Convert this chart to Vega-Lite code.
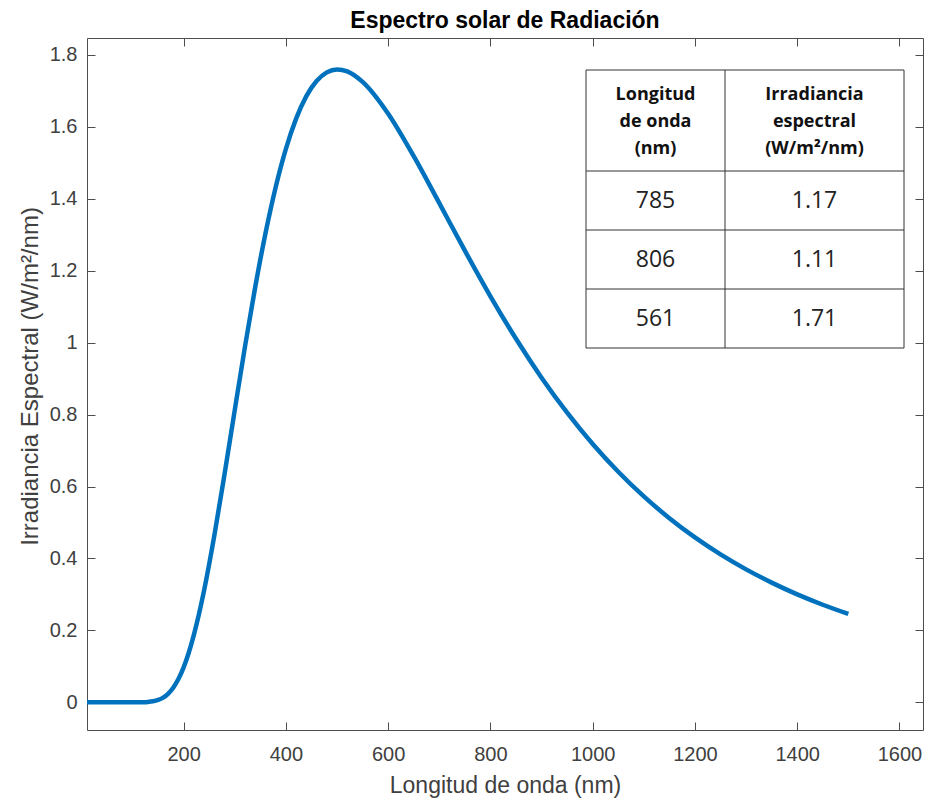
{
  "$schema": "https://vega.github.io/schema/vega-lite/v6.json",
  "width": 836,
  "height": 692,
  "autosize": "none",
  "padding": {"left": 87, "top": 38, "right": 4, "bottom": 69},
  "background": "white",
  "title": {
    "text": "Espectro solar de Radiación",
    "font": "Liberation Sans",
    "fontSize": 23,
    "fontWeight": "bold",
    "color": "#000000",
    "anchor": "middle",
    "frame": "group",
    "baseline": "alphabetic",
    "offset": -13
  },
  "config": {
    "view": {"stroke": null},
    "axis": {"grid": false}
  },
  "datasets": {
    "curva": [
      {"lambda": 11, "irr": 0},
      {"lambda": 50, "irr": 0},
      {"lambda": 100, "irr": 0},
      {"lambda": 120, "irr": 0.0003},
      {"lambda": 130, "irr": 0.001},
      {"lambda": 140, "irr": 0.0028},
      {"lambda": 150, "irr": 0.0065},
      {"lambda": 160, "irr": 0.0132},
      {"lambda": 170, "irr": 0.0244},
      {"lambda": 180, "irr": 0.0413},
      {"lambda": 190, "irr": 0.0653},
      {"lambda": 200, "irr": 0.0973},
      {"lambda": 210, "irr": 0.1379},
      {"lambda": 220, "irr": 0.1873},
      {"lambda": 230, "irr": 0.2453},
      {"lambda": 240, "irr": 0.3113},
      {"lambda": 260, "irr": 0.4635},
      {"lambda": 280, "irr": 0.6342},
      {"lambda": 300, "irr": 0.8127},
      {"lambda": 320, "irr": 0.9893},
      {"lambda": 340, "irr": 1.1547},
      {"lambda": 360, "irr": 1.3036},
      {"lambda": 380, "irr": 1.4323},
      {"lambda": 400, "irr": 1.5387},
      {"lambda": 420, "irr": 1.6228},
      {"lambda": 440, "irr": 1.6853},
      {"lambda": 460, "irr": 1.7274},
      {"lambda": 480, "irr": 1.7515},
      {"lambda": 500, "irr": 1.7597},
      {"lambda": 520, "irr": 1.7543},
      {"lambda": 550, "irr": 1.725},
      {"lambda": 600, "irr": 1.6365},
      {"lambda": 650, "irr": 1.5183},
      {"lambda": 700, "irr": 1.3878},
      {"lambda": 750, "irr": 1.2557},
      {"lambda": 800, "irr": 1.1288},
      {"lambda": 850, "irr": 1.0107},
      {"lambda": 900, "irr": 0.9026},
      {"lambda": 950, "irr": 0.8052},
      {"lambda": 1000, "irr": 0.7182},
      {"lambda": 1050, "irr": 0.6409},
      {"lambda": 1100, "irr": 0.5724},
      {"lambda": 1150, "irr": 0.5119},
      {"lambda": 1200, "irr": 0.4584},
      {"lambda": 1250, "irr": 0.4112},
      {"lambda": 1300, "irr": 0.3696},
      {"lambda": 1350, "irr": 0.3327},
      {"lambda": 1400, "irr": 0.3001},
      {"lambda": 1450, "irr": 0.2713},
      {"lambda": 1500, "irr": 0.2456}
    ],
    "encabezado": [
      {"longitud": ["Longitud", "de onda", "(nm)"], "irradiancia": ["Irradiancia", "espectral", "(W/m²/nm)"]}
    ],
    "tabla": [
      {"fila": 1, "longitud": "785", "irradiancia": "1.17"},
      {"fila": 2, "longitud": "806", "irradiancia": "1.11"},
      {"fila": 3, "longitud": "561", "irradiancia": "1.71"}
    ]
  },
  "layer": [
    {
      "data": {"name": "curva"},
      "layer": [
        {
          "mark": {"type": "line", "color": "#0072BD", "strokeWidth": 4.5, "interpolate": "monotone", "strokeCap": "butt"},
          "encoding": {
            "x": {
              "field": "lambda", "type": "quantitative",
              "scale": {"domain": [11, 1646], "nice": false, "zero": false},
              "axis": {
                "orient": "bottom",
                "values": [200, 400, 600, 800, 1000, 1200, 1400, 1600],
                "format": "d",
                "tickSize": -8,
                "tickColor": "#4d4d4d",
                "domainColor": "#4d4d4d",
                "labelFont": "Liberation Sans",
                "labelFontSize": 20,
                "labelColor": "#404040",
                "labelPadding": 22,
                "title": "Longitud de onda (nm)",
                "titleFont": "Liberation Sans",
                "titleFontSize": 23,
                "titleFontWeight": "normal",
                "titleColor": "#404040",
                "titleBaseline": "alphabetic",
                "titleY": 62
              }
            },
            "y": {
              "field": "irr", "type": "quantitative",
              "scale": {"domain": [-0.077, 1.847], "nice": false, "zero": false},
              "axis": {
                "orient": "left",
                "values": [0, 0.2, 0.4, 0.6, 0.8, 1, 1.2, 1.4, 1.6, 1.8],
                "format": "~f",
                "tickSize": -8,
                "tickColor": "#4d4d4d",
                "domainColor": "#4d4d4d",
                "labelFont": "Liberation Sans",
                "labelFontSize": 20,
                "labelColor": "#404040",
                "labelPadding": 18,
                "title": "Irradiancia Espectral (W/m²/nm)",
                "titleFont": "Liberation Sans",
                "titleFontSize": 24,
                "titleFontWeight": "normal",
                "titleColor": "#404040",
                "titleBaseline": "alphabetic",
                "titleX": -50,
                "titleY": 338
              }
            }
          }
        },
        {
          "mark": {"type": "line", "strokeOpacity": 0},
          "encoding": {
            "x": {
              "field": "lambda", "type": "quantitative",
              "axis": {"orient": "top", "values": [200, 400, 600, 800, 1000, 1200, 1400, 1600], "labels": false, "tickSize": -8, "tickColor": "#4d4d4d", "domainColor": "#4d4d4d", "title": null}
            },
            "y": {
              "field": "irr", "type": "quantitative",
              "axis": {"orient": "right", "values": [0, 0.2, 0.4, 0.6, 0.8, 1, 1.2, 1.4, 1.6, 1.8], "labels": false, "tickSize": -8, "tickColor": "#4d4d4d", "domainColor": "#4d4d4d", "title": null}
            }
          }
        }
      ],
      "resolve": {"axis": {"x": "independent", "y": "independent"}}
    },
    {
      "layer": [
        {
          "data": {"values": [{}]},
          "mark": {"type": "rect", "fill": "white", "stroke": "#333333", "strokeWidth": 1},
          "encoding": {
            "x": {"datum": -0.5, "type": "quantitative", "scale": {"domain": [-0.5, 0.5, 1.5], "range": [499, 638, 817], "nice": false, "zero": false}, "axis": null},
            "x2": {"datum": 1.5},
            "y": {"datum": -0.5, "type": "quantitative", "scale": {"domain": [-0.5, 0.5, 3.5], "range": [32, 133, 310], "nice": false, "zero": false}, "axis": null},
            "y2": {"datum": 3.5}
          }
        },
        {
          "data": {"values": [{}]},
          "mark": {"type": "rule", "color": "#333333", "strokeWidth": 1},
          "encoding": {
            "x": {"datum": 0.5, "type": "quantitative"},
            "y": {"datum": -0.5, "type": "quantitative"},
            "y2": {"datum": 3.5}
          }
        },
        {
          "data": {"values": [{}]},
          "mark": {"type": "rule", "color": "#333333", "strokeWidth": 1},
          "encoding": {
            "x": {"datum": -0.5, "type": "quantitative"},
            "x2": {"datum": 1.5},
            "y": {"datum": 0.5, "type": "quantitative"}
          }
        },
        {
          "data": {"values": [{}]},
          "mark": {"type": "rule", "color": "#333333", "strokeWidth": 1},
          "encoding": {
            "x": {"datum": -0.5, "type": "quantitative"},
            "x2": {"datum": 1.5},
            "y": {"datum": 1.5, "type": "quantitative"}
          }
        },
        {
          "data": {"values": [{}]},
          "mark": {"type": "rule", "color": "#333333", "strokeWidth": 1},
          "encoding": {
            "x": {"datum": -0.5, "type": "quantitative"},
            "x2": {"datum": 1.5},
            "y": {"datum": 2.5, "type": "quantitative"}
          }
        },
        {
          "data": {"name": "encabezado"},
          "mark": {"type": "text", "font": "Open Sans", "fontSize": 18, "fontWeight": "bold", "color": "#111111", "lineHeight": 27, "baseline": "middle", "align": "center", "dy": -26},
          "encoding": {
            "text": {"field": "longitud"},
            "x": {"datum": 0, "type": "quantitative"},
            "y": {"datum": 0, "type": "quantitative"}
          }
        },
        {
          "data": {"name": "encabezado"},
          "mark": {"type": "text", "font": "Open Sans", "fontSize": 18, "fontWeight": "bold", "color": "#111111", "lineHeight": 27, "baseline": "middle", "align": "center", "dy": -26},
          "encoding": {
            "text": {"field": "irradiancia"},
            "x": {"datum": 1, "type": "quantitative"},
            "y": {"datum": 0, "type": "quantitative"}
          }
        },
        {
          "data": {"name": "tabla"},
          "mark": {"type": "text", "font": "Open Sans", "fontSize": 23, "color": "#222222", "baseline": "middle", "align": "center"},
          "encoding": {
            "text": {"field": "longitud"},
            "x": {"datum": 0, "type": "quantitative"},
            "y": {"field": "fila", "type": "quantitative"}
          }
        },
        {
          "data": {"name": "tabla"},
          "mark": {"type": "text", "font": "Open Sans", "fontSize": 23, "color": "#222222", "baseline": "middle", "align": "center"},
          "encoding": {
            "text": {"field": "irradiancia"},
            "x": {"datum": 1, "type": "quantitative"},
            "y": {"field": "fila", "type": "quantitative"}
          }
        }
      ]
    }
  ],
  "resolve": {"scale": {"x": "independent", "y": "independent"}}
}
